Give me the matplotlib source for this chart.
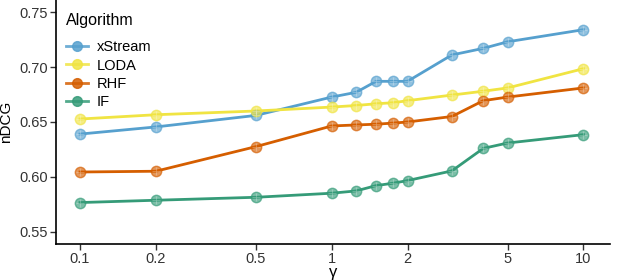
import matplotlib
matplotlib.use("Agg")
import matplotlib.pyplot as plt
from matplotlib.ticker import FixedLocator, NullLocator
from matplotlib.lines import Line2D

plt.rcParams['font.family'] = ['Liberation Sans', 'DejaVu Sans']

gamma = [0.1, 0.2, 0.5, 1, 1.25, 1.5, 1.75, 2, 3, 4, 5, 10]
xstream = [0.639, 0.6455, 0.656, 0.6727, 0.677, 0.687, 0.687, 0.687, 0.711, 0.717, 0.723, 0.734]
loda = [0.6527, 0.6566, 0.660, 0.6636, 0.665, 0.6666, 0.6675, 0.6694, 0.6745, 0.678, 0.681, 0.6985]
rhf = [0.6045, 0.6052, 0.6276, 0.6464, 0.6473, 0.648, 0.649, 0.650, 0.655, 0.6694, 0.6727, 0.681]
iforest = [0.5767, 0.5788, 0.5815, 0.5852, 0.5873, 0.5921, 0.5943, 0.5967, 0.6055, 0.626, 0.6309, 0.6385]

series = [("xStream", xstream, "#56A0CE"),
          ("LODA", loda, "#F0E442"),
          ("RHF", rhf, "#D55E00"),
          ("IF", iforest, "#359B78")]

fig = plt.figure(figsize=(6.4, 2.8), dpi=100)
ax = fig.add_axes([0.0875, 0.1286, 0.865, 0.8714])

for name, vals, col in series:
    ax.plot(gamma, vals, color=col, lw=2.0, label=name, zorder=2)
    ax.plot(gamma, vals, ls="none", marker="o", ms=7.5, mfc=col, mec=col,
            mew=1.0, alpha=0.65, zorder=3)
    ax.plot(gamma, vals, ls="none", marker="+", ms=6, mec="white",
            mew=0.5, alpha=0.35, zorder=4)

ax.set_xscale("log")
ax.set_xlim(0.0803, 12.7)
ax.set_ylim(0.539, 0.761)
ax.xaxis.set_major_locator(FixedLocator([0.1, 0.2, 0.5, 1, 2, 5, 10]))
ax.xaxis.set_minor_locator(NullLocator())
ax.set_xticklabels(["0.1", "0.2", "0.5", "1", "2", "5", "10"])
ax.set_yticks([0.55, 0.60, 0.65, 0.70, 0.75])
ax.set_yticklabels(["0.55", "0.60", "0.65", "0.70", "0.75"])

for s in ["top", "right"]:
    ax.spines[s].set_visible(False)
for s in ["left", "bottom"]:
    ax.spines[s].set_linewidth(1.2)
    ax.spines[s].set_color("black")
ax.tick_params(axis="both", length=4, width=1.0, color="#333333",
               labelsize=10.5, labelcolor="#333333", pad=2)

ax.set_xlabel("γ", fontsize=12, labelpad=-1)
ax.set_ylabel("nDCG", fontsize=11)
ax.yaxis.set_label_coords(-0.078, 0.5)

handles = [Line2D([], [], color=c, lw=2, marker="o", ms=7, mfc=c, mec=c, alpha=0.85)
           for _, _, c in series]
leg = ax.legend(handles, [n for n, _, _ in series], title="Algorithm",
                loc="upper left", bbox_to_anchor=(0.0, 0.99), frameon=False,
                fontsize=10.5, title_fontsize=11.5, handlelength=1.5,
                labelspacing=0.3, handletextpad=0.6, borderaxespad=0.3)
leg._legend_box.align = "left"
leg._legend_box.sep = 9

fig.savefig("out.png", dpi=100)
